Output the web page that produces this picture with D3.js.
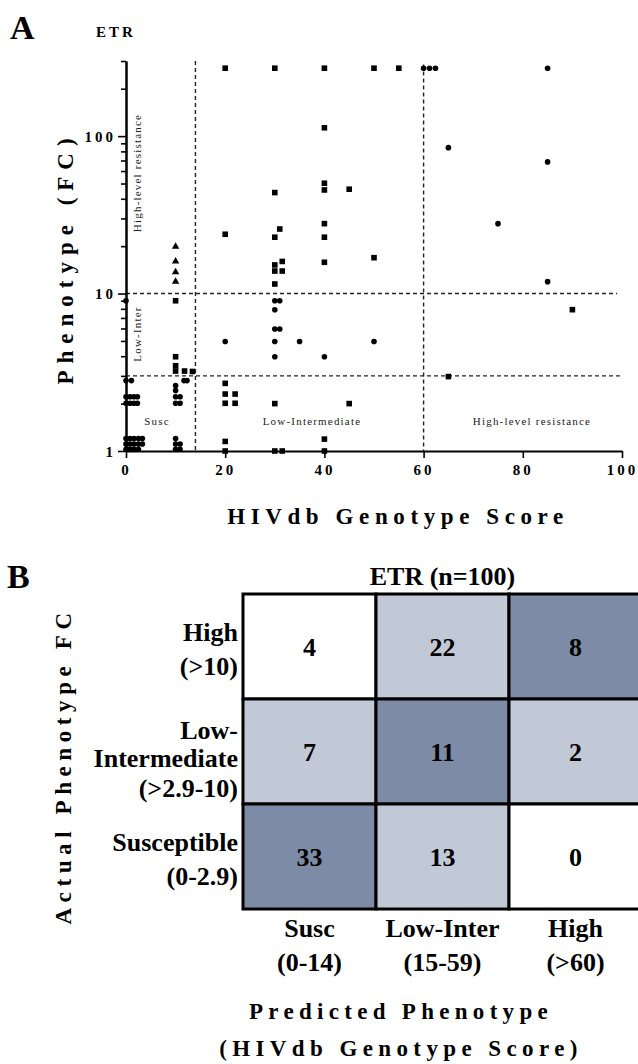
<!DOCTYPE html>
<html>
<head>
<meta charset="utf-8">
<script src="https://cdn.jsdelivr.net/npm/d3@7"></script>
<style>
  body { margin: 0; background: #fff; }
  svg { display: block; font-family: "Liberation Serif", "Times New Roman", serif; }
</style>
</head>
<body>
<div id="chart"></div>
<script>
/////////////////////////////////////////////////////////////
//////////////////////// Data ///////////////////////////////
/////////////////////////////////////////////////////////////

// Panel A - scatter, HIVdb score vs fold change, three marker shapes
var circleScore = [0, 0, 1.1, 0, 0.8, 1.6, 2.3, 0, 0.8, 1.6, 2.3,
  0, 0.8, 1.6, 2.5, 3.3, 0, 0.8, 1.6, 2.5, 3.3, 0, 0.8, 1.6, 2.5,
  10, 10, 10, 10.9, 10, 10.9, 11.7, 12.3, 10, 10, 10.9, 10, 10.9,
  20, 30, 31, 30, 30, 31, 30, 35, 50, 30, 40,
  60, 61.2, 62.4, 65, 85, 85, 75, 85];
var circleFC = [9.0, 2.8, 2.8, 2.21, 2.21, 2.21, 2.21, 2.01, 2.01, 2.01, 2.01,
  1.2, 1.2, 1.2, 1.2, 1.2, 1.108, 1.108, 1.108, 1.108, 1.108, 1.025, 1.025, 1.025, 1.025,
  2.6, 2.42, 2.21, 2.21, 2.01, 2.01, 2.8, 2.8, 1.2, 1.108, 1.108, 1.025, 1.025,
  4.96, 9.0, 9.0, 7.9, 5.96, 5.96, 4.96, 4.96, 4.96, 3.97, 3.97,
  270, 270, 270, 84.5, 270, 68.6, 27.8, 11.9];

var squareScore = [10, 10, 10, 10, 11.8, 13.4,
  20, 20, 20, 20, 22, 20, 22, 20, 20,
  30, 30, 31, 30, 30, 30, 31.5, 31.5, 30, 30, 30, 31.5,
  40, 40, 40, 40, 40, 40, 40, 40, 40,
  45, 45, 50, 50, 55, 65, 90];
var squareFC = [9.0, 3.97, 3.48, 3.22, 3.22, 3.2,
  270, 23.8, 2.69, 2.3, 2.3, 2.01, 2.01, 1.15, 1.0,
  270, 43.8, 25.7, 22.8, 15.2, 13.9, 16, 13.9, 11.5, 2.0, 1.0, 1.0,
  270, 113, 50.2, 45.5, 27.8, 22.8, 15.8, 1.19, 1.0,
  46, 2.0, 270, 16.9, 270, 2.97, 7.9];

var triangleScore = [10, 10, 10, 10];
var triangleFC = [19.9, 16, 13.7, 11.9];

// cut-offs drawn as dashed lines
var scoreCutoffs = [14, 60];
var fcCutoffs = [10, 3];

var xTicks = [0, 20, 40, 60, 80, 100];
var yMajorTicks = [1, 10, 100];
var yMinorTicks = [2, 3, 4, 5, 6, 7, 8, 9, 20, 30, 40, 50, 60, 70, 80, 90, 200, 300];

// Panel B - contingency table
var predictedCats = ["Susc", "Low-Inter", "High"];
var predictedRanges = ["(0-14)", "(15-59)", "(>60)"];
var actualCats = ["High", "Low-Inter", "Susc"];
var actualLabels = [["High", "(>10)"], ["Low-", "Intermediate", "(>2.9-10)"], ["Susceptible", "(0-2.9)"]];
var countsHigh = [4, 22, 8];
var countsLowInter = [7, 11, 2];
var countsSusc = [33, 13, 0];

/////////////////////////////////////////////////////////////
/////////////////////// Canvas //////////////////////////////
/////////////////////////////////////////////////////////////

var svg = d3.select("#chart")
  .append("svg")
  .attr("width", 638)
  .attr("height", 1064);

/////////////////////////////////////////////////////////////
/////////////////////// Panel A /////////////////////////////
/////////////////////////////////////////////////////////////

var x = d3.scaleLinear().domain([0, 100]).range([126, 622]);
var y = d3.scaleLog().domain([1, 300]).range([451, 61]);

svg.append("text")
  .attr("x", 10).attr("y", 39)
  .style("font-size", "34px").style("font-weight", "bold")
  .text("A");

svg.append("text")
  .attr("x", 96).attr("y", 37)
  .style("font-size", "15px").style("font-weight", "bold")
  .style("letter-spacing", "3px")
  .text("ETR");

// dashed cut-off lines
svg.selectAll("vcut")
  .data(scoreCutoffs).enter().append("line")
  .attr("x1", d => x(d)).attr("x2", d => x(d))
  .attr("y1", (d, i) => i == 0 ? y(300) : y(285)).attr("y2", y(1))
  .attr("stroke", "#222").attr("stroke-width", 1.4)
  .attr("stroke-dasharray", "4,3");

svg.selectAll("hcut")
  .data(fcCutoffs).enter().append("line")
  .attr("x1", x(0)).attr("x2", (d, i) => i == 0 ? x(99) : x(100))
  .attr("y1", d => y(d)).attr("y2", d => y(d))
  .attr("stroke", "#222").attr("stroke-width", 1.4)
  .attr("stroke-dasharray", "4,3");

// region labels
var regionStyle = function (sel) {
  sel.style("font-size", "11px").style("letter-spacing", "1.2px").attr("fill", "#222");
};
svg.append("text")
  .attr("transform", "translate(141,173)rotate(-90)")
  .attr("text-anchor", "middle").call(regionStyle)
  .text("High-level resistance");
svg.append("text")
  .attr("transform", "translate(141,334)rotate(-90)")
  .attr("text-anchor", "middle").call(regionStyle)
  .text("Low-Inter");
svg.append("text")
  .attr("x", 157).attr("y", 425)
  .attr("text-anchor", "middle").call(regionStyle)
  .text("Susc");
svg.append("text")
  .attr("x", 312).attr("y", 425)
  .attr("text-anchor", "middle").call(regionStyle)
  .text("Low-Intermediate");
svg.append("text")
  .attr("x", 532).attr("y", 425)
  .attr("text-anchor", "middle").call(regionStyle)
  .text("High-level resistance");

// y axis: minor ticks then major ticks with labels
var yMinor = svg.append("g")
  .attr("transform", "translate(" + x(0) + ",0)")
  .call(d3.axisLeft(y).tickValues(yMinorTicks).tickSize(5).tickSizeOuter(0).tickFormat(""));
var yMajor = svg.append("g")
  .attr("transform", "translate(" + x(0) + ",0)")
  .call(d3.axisLeft(y).tickValues(yMajorTicks).tickSize(8).tickSizeOuter(0).tickFormat(d3.format("d")));

[yMinor, yMajor].forEach(function (g) {
  g.select(".domain").attr("stroke", "#000").attr("stroke-width", 2);
  g.selectAll(".tick line").attr("stroke", "#000").attr("stroke-width", 1.6);
});
yMajor.selectAll(".tick text")
  .attr("x", -10).attr("dy", "0.34em")
  .style("font-size", "15px").style("font-weight", "bold")
  .style("letter-spacing", "3px").style("font-family", "Liberation Serif, serif")
  .attr("fill", "#000");

// x axis
var xAxis = svg.append("g")
  .attr("transform", "translate(0," + y(1) + ")")
  .call(d3.axisBottom(x).tickValues(xTicks).tickSize(7).tickSizeOuter(0));
xAxis.select(".domain").attr("stroke", "#000").attr("stroke-width", 2);
xAxis.selectAll(".tick line").attr("stroke", "#000").attr("stroke-width", 1.6);
xAxis.selectAll(".tick text")
  .attr("y", 24).attr("dy", 0)
  .style("font-size", "15px").style("font-weight", "bold")
  .style("letter-spacing", "3px").style("font-family", "Liberation Serif, serif")
  .attr("fill", "#000");

// axis titles
svg.append("text")
  .attr("transform", "translate(73,258)rotate(-90)")
  .attr("text-anchor", "middle")
  .style("font-size", "23px").style("font-weight", "bold")
  .style("letter-spacing", "7px")
  .text("Phenotype (FC)");

svg.append("text")
  .attr("x", 398).attr("y", 524)
  .attr("text-anchor", "middle")
  .style("font-size", "23px").style("font-weight", "bold")
  .style("letter-spacing", "5.6px")
  .text("HIVdb Genotype Score");

// markers
var circles = d3.zip(circleScore, circleFC);
var squares = d3.zip(squareScore, squareFC);
var triangles = d3.zip(triangleScore, triangleFC);

svg.selectAll("circlePts")
  .data(circles).enter().append("circle")
  .attr("cx", d => x(d[0]))
  .attr("cy", d => y(d[1]))
  .attr("r", 2.8)
  .attr("fill", "#000");

svg.selectAll("squarePts")
  .data(squares).enter().append("rect")
  .attr("x", d => x(d[0]) - 2.8)
  .attr("y", d => y(d[1]) - 2.8)
  .attr("width", 5.6).attr("height", 5.6)
  .attr("fill", "#000");

svg.selectAll("trianglePts")
  .data(triangles).enter().append("path")
  .attr("d", d3.symbol(d3.symbolTriangle).size(24))
  .attr("transform", d => "translate(" + x(d[0]) + "," + y(d[1]) + ")")
  .attr("fill", "#000");

/////////////////////////////////////////////////////////////
/////////////////////// Panel B /////////////////////////////
/////////////////////////////////////////////////////////////

var counts = [countsHigh, countsLowInter, countsSusc];
var cells = [];
actualCats.forEach(function (a, i) {
  predictedCats.forEach(function (p, j) {
    cells.push({ actual: a, predicted: p, row: i, col: j, n: counts[i][j] });
  });
});

var bx = d3.scaleBand().domain(predictedCats).range([243, 642]);
var by = d3.scaleBand().domain(actualCats).range([594, 909]);

// shade by how far the prediction is from the diagonal (agreement)
var shade = d3.scaleOrdinal().domain([0, 1, 2]).range(["#7e8ba7", "#c2c9d6", "#ffffff"]);

var bFont = "26px";

svg.append("text")
  .attr("x", 7).attr("y", 588)
  .style("font-size", "34px").style("font-weight", "bold")
  .text("B");

svg.append("text")
  .attr("x", (243 + 642) / 2).attr("y", 585)
  .attr("text-anchor", "middle")
  .style("font-size", bFont).style("font-weight", "bold")
  .text("ETR (n=100)");

svg.selectAll("cells")
  .data(cells).enter().append("rect")
  .attr("x", d => bx(d.predicted))
  .attr("y", d => by(d.actual))
  .attr("width", bx.bandwidth())
  .attr("height", by.bandwidth())
  .attr("fill", d => shade(Math.abs((2 - d.row) - d.col)))
  .attr("stroke", "#000")
  .attr("stroke-width", 3);

svg.selectAll("cellText")
  .data(cells).enter().append("text")
  .attr("x", d => bx(d.predicted) + bx.bandwidth() / 2)
  .attr("y", d => by(d.actual) + by.bandwidth() / 2 + 9)
  .attr("text-anchor", "middle")
  .style("font-size", bFont).style("font-weight", "bold")
  .text(d => d.n);

// row labels
actualCats.forEach(function (a, i) {
  var lines = actualLabels[i];
  var c = by(a) + by.bandwidth() / 2;
  var base = lines.length == 2 ? [c - 6, c + 28] : [c - 13, c + 15, c + 45];
  lines.forEach(function (t, k) {
    svg.append("text")
      .attr("x", 238).attr("y", base[k])
      .attr("text-anchor", "end")
      .style("font-size", bFont).style("font-weight", "bold")
      .text(t);
  });
});

// column labels
predictedCats.forEach(function (p, j) {
  var cx = bx(p) + bx.bandwidth() / 2;
  svg.append("text")
    .attr("x", cx).attr("y", 937)
    .attr("text-anchor", "middle")
    .style("font-size", bFont).style("font-weight", "bold")
    .text(p);
  svg.append("text")
    .attr("x", cx).attr("y", 971)
    .attr("text-anchor", "middle")
    .style("font-size", bFont).style("font-weight", "bold")
    .text(predictedRanges[j]);
});

// panel B axis titles
svg.append("text")
  .attr("transform", "translate(71,766)rotate(-90)")
  .attr("text-anchor", "middle")
  .style("font-size", "23px").style("font-weight", "bold")
  .style("letter-spacing", "5.6px")
  .text("Actual Phenotype FC");

svg.append("text")
  .attr("x", 401).attr("y", 1019)
  .attr("text-anchor", "middle")
  .style("font-size", "23px").style("font-weight", "bold")
  .style("letter-spacing", "5.3px")
  .text("Predicted Phenotype");

svg.append("text")
  .attr("x", 401).attr("y", 1056)
  .attr("text-anchor", "middle")
  .style("font-size", "23px").style("font-weight", "bold")
  .style("letter-spacing", "5.4px")
  .text("(HIVdb Genotype Score)");
</script>
</body>
</html>
